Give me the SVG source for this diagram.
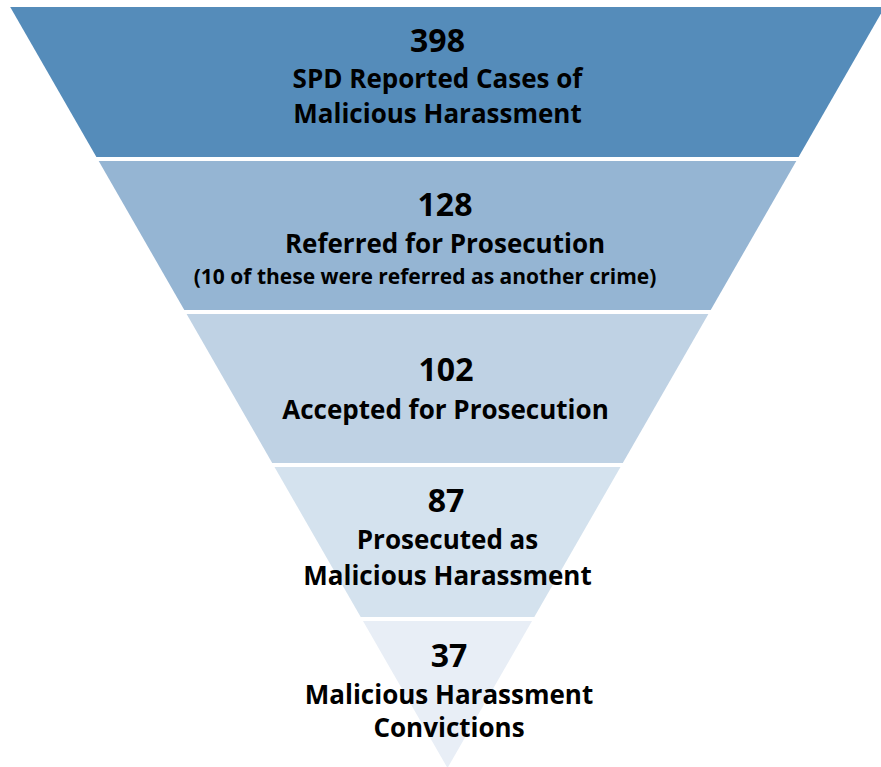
<svg xmlns="http://www.w3.org/2000/svg" width="881" height="767" viewBox="0 0 881 767">
<style>
.t{font-family:"Open Sans","Noto Sans","DejaVu Sans",sans-serif;font-weight:700;fill:#000;text-anchor:middle}
.n{font-size:32px}
.l{font-size:26px}
.s{font-size:21px}
</style>
<rect width="881" height="767" fill="#fff"/>
<g id="stage1">
<polygon points="10.2,7 884.8,7 798.6,157 96.4,157" fill="#558CBA"/>
<text class="t n" x="437.5" y="52">398</text>
<text class="t l" x="437.5" y="88">SPD Reported Cases of</text>
<text class="t l" x="437.5" y="123">Malicious Harassment</text>
</g>
<g id="stage2">
<polygon points="98.7,161 796.3,161 710.7,310 184.3,310" fill="#95B5D3"/>
<text class="t n" x="445" y="215.5">128</text>
<text class="t l" x="445" y="252.5">Referred for Prosecution</text>
<text class="t s" x="425" y="284">(10 of these were referred as another crime)</text>
</g>
<g id="stage3">
<polygon points="186.6,314 708.4,314 622.8,463 272.2,463" fill="#BFD2E4"/>
<text class="t n" x="446" y="381">102</text>
<text class="t l" x="445.5" y="419">Accepted for Prosecution</text>
</g>
<g id="stage4">
<polygon points="274.5,467 620.5,467 534.3,617 360.7,617" fill="#D4E2EE"/>
<text class="t n" x="446" y="512">87</text>
<text class="t l" x="447.5" y="549">Prosecuted as</text>
<text class="t l" x="447.5" y="584.5">Malicious Harassment</text>
</g>
<g id="stage5">
<polygon points="363,621 532,621 447.5,768" fill="#E8EEF6"/>
<text class="t n" x="449" y="667">37</text>
<text class="t l" x="449" y="704">Malicious Harassment</text>
<text class="t l" x="449" y="737">Convictions</text>
</g>
<g id="connectors"></g>
</svg>
